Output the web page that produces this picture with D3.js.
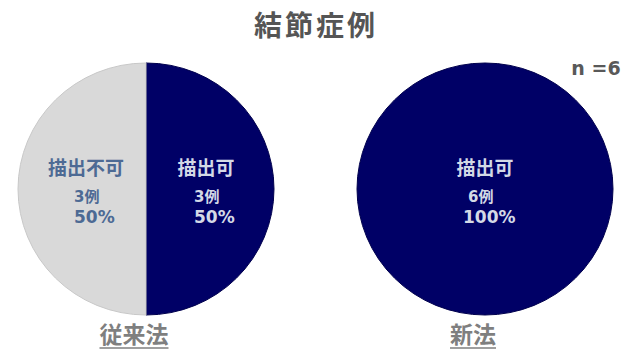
<!DOCTYPE html>
<html>
<head>
<meta charset="utf-8">
<script src="https://cdn.jsdelivr.net/npm/d3@7/dist/d3.min.js"></script>
<style>
  html, body { margin: 0; padding: 0; background: #fff; }
  svg { display: block; }
  text { font-family: "Noto Sans CJK JP", "Noto Sans", sans-serif; font-weight: bold; }
  text.num { font-family: "DejaVu Sans", "Noto Sans CJK JP", sans-serif; }
</style>
</head>
<body>
<svg id="chart" width="632" height="353"></svg>
<script>
// Methods compared
const methods = ["従来法", "新法"];
// Cases where the nodule could be visualised / could not
const detected = [3, 6];
const notDetected = [3, 0];
const sliceNames = ["描出可", "描出不可"];
const totalN = 6;

const W = 632, H = 353;
const svg = d3.select("#chart");

const x = d3.scalePoint().domain(methods).range([146, 485]);
const color = d3.scaleOrdinal().domain(sliceNames).range(["#000066", "#d9d9d9"]);
const labelColor = d3.scaleOrdinal().domain(sliceNames).range(["#d3d9e6", "#4d6a94"]);

const R = 128, ry = 126, cy = 189;
const arc = d3.arc().innerRadius(0).outerRadius(R);
const pie = d3.pie().sort(null).value(d => d.value).startAngle(0).endAngle(2 * Math.PI);

// Title and sample size
svg.append("text").attr("x", W / 2).attr("y", 36)
  .attr("text-anchor", "middle").attr("font-size", 28).attr("letter-spacing", 3)
  .attr("fill", "#555555").text("結節症例");
svg.append("text").attr("class", "num").attr("x", 596).attr("y", 75)
  .attr("text-anchor", "middle").attr("font-size", 19)
  .attr("fill", "#595959").text("n =" + totalN);

methods.forEach((m, i) => {
  const data = [
    { name: sliceNames[0], value: detected[i] },
    { name: sliceNames[1], value: notDetected[i] }
  ].filter(d => d.value > 0);
  const total = d3.sum(data, d => d.value);

  const g = svg.append("g")
    .attr("transform", `translate(${x(m)},${cy}) scale(1,${ry / R})`);
  g.selectAll("path").data(pie(data)).join("path")
    .attr("d", arc)
    .attr("fill", d => color(d.data.name))
    .attr("stroke", d => d.data.name === sliceNames[1] ? "#c8c8c8" : "#00004d")
    .attr("stroke-width", 1);

  // Slice labels: name, count, share
  const labels = svg.append("g").attr("transform", `translate(${x(m)},${cy})`);
  pie(data).forEach(d => {
    const full = data.length === 1;
    const mid = (d.startAngle + d.endAngle) / 2;
    const cx = full ? 0 : Math.sin(mid) * 60;
    const fill = labelColor(d.data.name);
    labels.append("text").attr("x", cx).attr("y", -14)
      .attr("text-anchor", "middle").attr("font-size", 19).attr("fill", fill)
      .text(d.data.name);
    const nx = full ? cx - 17 : cx - 12;
    labels.append("text").attr("class", "num").attr("x", nx).attr("y", 13)
      .attr("font-size", 15).attr("fill", fill)
      .text(d.data.value + "例");
    const px = full ? cx - 22 : cx - 12;
    labels.append("text").attr("class", "num").attr("x", px).attr("y", 34)
      .attr("font-size", 17).attr("fill", fill)
      .text(Math.round(d.data.value / total * 100) + "%");
  });

  // Method name, underlined
  const t = svg.append("text").attr("x", x(m) - 12).attr("y", 343)
    .attr("text-anchor", "middle").attr("font-size", 23)
    .attr("fill", "#7f7f7f").text(m);
  const bb = t.node().getBBox();
  svg.append("line")
    .attr("x1", bb.x).attr("x2", bb.x + bb.width)
    .attr("y1", 348).attr("y2", 348)
    .attr("stroke", "#7f7f7f").attr("stroke-width", 1.5);
});
</script>
</body>
</html>
